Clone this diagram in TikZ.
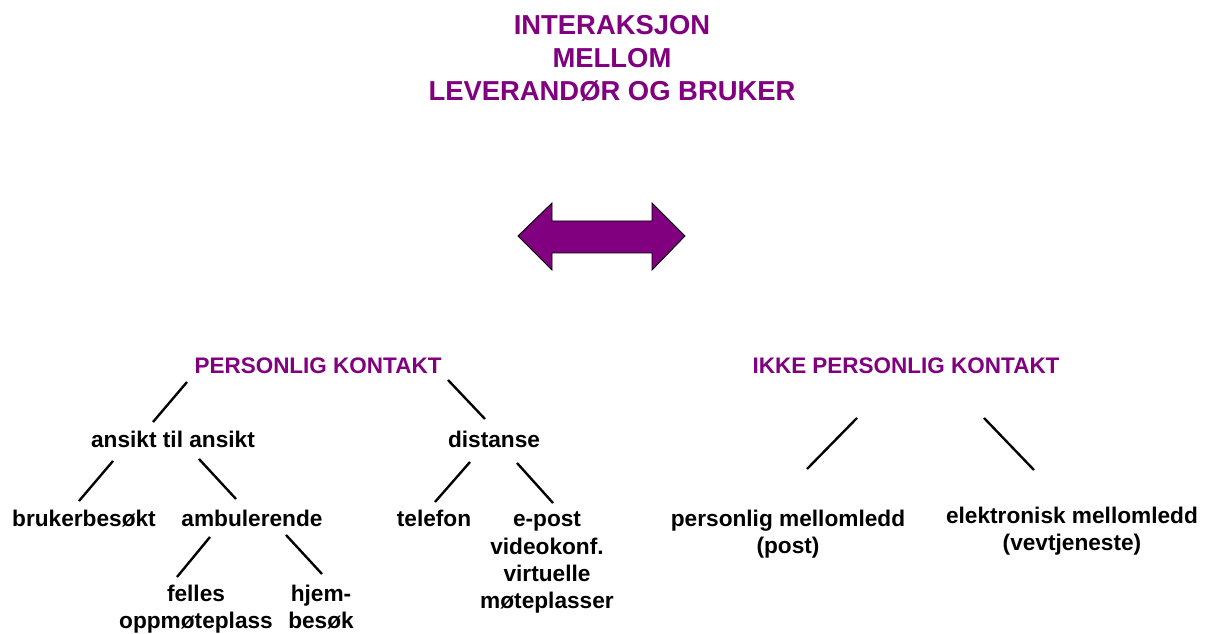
\documentclass[tikz,border=0pt]{standalone}
\usepackage{fontspec}
\setmainfont{Liberation Sans}
\usetikzlibrary{positioning}
\definecolor{cpurple}{HTML}{800080}
\tikzset{
  every picture/.style={line width=1.2pt},
  heading/.style={font=\fontsize{15.6}{18.8}\selectfont\bfseries, text=cpurple, align=center, inner sep=0pt, anchor=base},
  group/.style={font=\fontsize{12.8}{15.4}\selectfont\bfseries, text=cpurple, inner sep=0pt, anchor=base},
  item/.style={font=\fontsize{12.9}{15.6}\selectfont\bfseries, align=center, inner sep=0pt, anchor=base},
  branch/.style={draw=black, line width=1.35pt},
}
\begin{document}
\begin{tikzpicture}[x=0.02cm, y=-0.02cm]
  \useasboundingbox (0,0) rectangle (1208,634);
  % title and the two-way arrow (multi-line nodes sit on their last baseline)
  \node[heading] (title) at (612,101) {INTERAKSJON\\MELLOM\\LEVERANDØR OG BRUKER};
  \fill[cpurple, draw=black, line width=0.5pt] (518,236) -- (552,203) -- (552,221) -- (652,221) -- (652,203)
    -- (685,236) -- (652,270) -- (652,253) -- (552,253) -- (552,270) -- cycle;
  % the two kinds of contact
  \node[group] (pk) at (318,374) {PERSONLIG KONTAKT};
  \node[group] (ipk) at (906,374) {IKKE PERSONLIG KONTAKT};
  % personal contact
  \node[item] (face) at (173,448) {ansikt til ansikt};
  \node[item] (dist) at (494,448) {distanse};
  \node[item] (visit) at (84,527) {brukerbesøkt};
  \node[item] (amb) at (252,527) {ambulerende};
  \node[item] (tel) at (434,527) {telefon};
  \node[item] (epost) at (547,609) {e-post\\videokonf.\\virtuelle\\møteplasser};
  \node[item] (meet) at (196,629) {felles\\oppmøteplass};
  \node[item] (home) at (321,629) {hjem-\\besøk};
  % non-personal contact
  \node[item] (pmed) at (788,554) {personlig mellomledd\\(post)};
  \node[item] (emed) at (1072,551) {elektronisk mellomledd\\(vevtjeneste)};
  % branch ends
  \coordinate (pk-a) at (187,382);   \coordinate (face-a) at (153,422);
  \coordinate (pk-b) at (448,380);   \coordinate (dist-a) at (485,419);
  \coordinate (face-b) at (113,461); \coordinate (visit-a) at (79,501);
  \coordinate (face-c) at (199,459); \coordinate (amb-a) at (236,499);
  \coordinate (amb-b) at (210,537);  \coordinate (meet-a) at (177,577);
  \coordinate (amb-c) at (286,535);  \coordinate (home-a) at (322,574);
  \coordinate (dist-b) at (470,462); \coordinate (tel-a) at (435,502);
  \coordinate (dist-c) at (517,463); \coordinate (epost-a) at (553,503);
  \coordinate (ipk-a) at (857,418);  \coordinate (pmed-a) at (807,469);
  \coordinate (ipk-b) at (984,418);  \coordinate (emed-a) at (1034,470);
  \foreach \a/\b in {pk-a/face-a, pk-b/dist-a, face-b/visit-a, face-c/amb-a, amb-b/meet-a,
    amb-c/home-a, dist-b/tel-a, dist-c/epost-a, ipk-a/pmed-a, ipk-b/emed-a}
    \draw[branch] (\a) -- (\b);
\end{tikzpicture}
\end{document}
